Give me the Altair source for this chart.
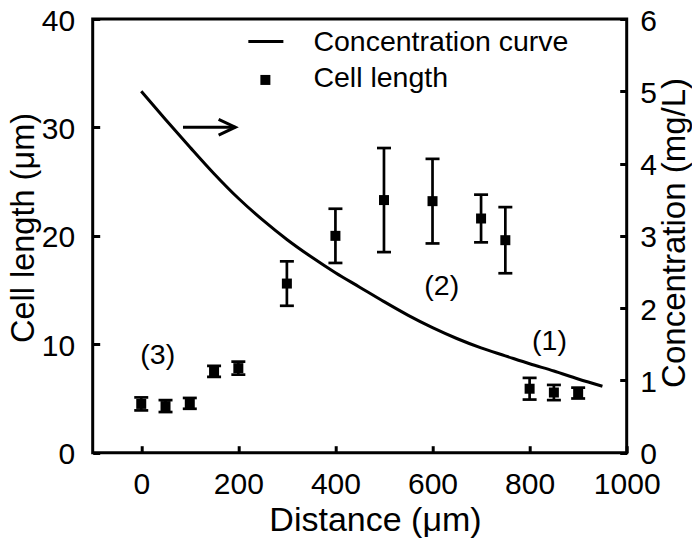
import altair as alt
import pandas as pd

# ---------------- data ----------------
distance = [0, 50, 100, 150, 200, 300, 400, 500, 600, 700, 750, 800, 850, 900]
cell_length = [4.5, 4.3, 4.55, 7.5, 7.8, 15.6, 20.0, 23.3, 23.2, 21.6, 19.6, 5.9, 5.55, 5.5]
cell_err = [0.6, 0.55, 0.5, 0.5, 0.6, 2.05, 2.5, 4.8, 3.9, 2.2, 3.05, 1.0, 0.7, 0.5]

curve_distance = [0, 50, 100, 150, 200, 250, 300, 350, 400, 450, 500,
                  550, 600, 650, 700, 750, 800, 850, 900, 950]
curve_conc = [5.00, 4.61, 4.23, 3.86, 3.52, 3.22, 2.95, 2.71, 2.49, 2.29, 2.09,
              1.90, 1.73, 1.58, 1.45, 1.34, 1.23, 1.13, 1.02, 0.92]

x_ticks = [0, 200, 400, 600, 800, 1000]
left_ticks = [0, 10, 20, 30, 40]
right_ticks = [0, 1, 2, 3, 4, 5, 6]

region_labels = ["(3)", "(2)", "(1)"]
region_x = [34, 619, 841]
region_y = [9.01, 15.38, 10.3]

legend_labels = ["Concentration curve", "Cell length"]

FONT = "Liberation Sans"

# ---------------- tables ----------------
cells = pd.DataFrame({
    "d": distance,
    "len": cell_length,
    "lo": [v - e for v, e in zip(cell_length, cell_err)],
    "hi": [v + e for v, e in zip(cell_length, cell_err)],
})
curve = pd.DataFrame({"d": curve_distance, "c": curve_conc})
regions = pd.DataFrame({"d": region_x, "y": region_y, "t": region_labels})
arrow = pd.DataFrame({"x0": [86.0], "x1": [193.8], "y": [30.02]})
leg_line = pd.DataFrame({"x0": [220.6], "x1": [292.8], "y": [37.92]})
leg_sq = pd.DataFrame({"x": [255.7], "y": [34.38]})
leg_text = pd.DataFrame({"x": [354.6, 354.6], "y": [37.92, 34.54], "t": legend_labels})

xscale = alt.Scale(domain=[-100, 1000], nice=False, zero=False)
ylscale = alt.Scale(domain=[0, 40], nice=False)
yrscale = alt.Scale(domain=[0, 6], nice=False)

common_axis = dict(
    offset=-7, tickSize=7, tickWidth=3, tickColor="black", domain=False, grid=False,
    labelFontSize=30, labelColor="black", labelFont=FONT, labelOverlap=False,
    labelFlush=False, format="d", titleFontWeight="normal", titleColor="black",
    titleFont=FONT,
)

xaxis = alt.Axis(values=x_ticks, title="Distance (μm)", labelPadding=17,
                 titleFontSize=34, titleX=282.3, titleY=85, titleBaseline="alphabetic",
                 titleAlign="center", **common_axis)
ylaxis = alt.Axis(values=left_ticks, title="Cell length (μm)", labelPadding=18,
                  labelOffset=2, titleFontSize=32.5, titleAngle=270, titleX=-76, titleY=208.5,
                  titleBaseline="middle", titleAlign="center", **common_axis)
yraxis = alt.Axis(values=right_ticks, title="Concentration (mg/L)", orient="right",
                  labelPadding=13, labelOffset=2, titleFontSize=33, titleAngle=270,
                  titleX=55, titleY=213.4, titleBaseline="middle", titleAlign="center",
                  **common_axis)


def X(field):
    return alt.X(field, type="quantitative", scale=xscale, axis=xaxis)


def YL(field):
    return alt.Y(field, type="quantitative", scale=ylscale, axis=ylaxis)


base = alt.Chart(cells)

bars = base.mark_rule(strokeWidth=2.7, color="black").encode(
    x=X("d"), y=YL("lo"), y2="hi:Q")
cap_hi = base.mark_tick(orient="horizontal", size=14, thickness=2.7, color="black", opacity=1).encode(
    x=X("d"), y=YL("hi"))
cap_lo = base.mark_tick(orient="horizontal", size=14, thickness=2.7, color="black", opacity=1).encode(
    x=X("d"), y=YL("lo"))
squares = base.mark_square(size=100, color="black", opacity=1).encode(
    x=X("d"), y=YL("len"))

region_text = alt.Chart(regions).mark_text(fontSize=28.5, align="center", baseline="middle",
                                           color="black", font=FONT).encode(
    x=X("d"), y=YL("y"), text="t:N")

arrow_line = alt.Chart(arrow).mark_rule(strokeWidth=3, color="black").encode(
    x=X("x0"), x2="x1:Q", y=YL("y"))
arrow_head = alt.Chart(arrow).mark_point(shape="M-1,-0.47L0,0L-1,0.47", size=1115, filled=False,
                                         strokeWidth=3, color="black", opacity=1,
                                         strokeJoin="miter").encode(
    x=X("x1"), y=YL("y"))

legend_line = alt.Chart(leg_line).mark_rule(strokeWidth=3, color="black").encode(
    x=X("x0"), x2="x1:Q", y=YL("y"))
legend_square = alt.Chart(leg_sq).mark_square(size=100, color="black", opacity=1).encode(
    x=X("x"), y=YL("y"))
legend_text = alt.Chart(leg_text).mark_text(fontSize=28.5, align="left", baseline="middle",
                                            color="black", font=FONT).encode(
    x=X("x"), y=YL("y"), text="t:N")

left = alt.layer(bars, cap_hi, cap_lo, squares, region_text, arrow_line, arrow_head,
                 legend_line, legend_square, legend_text)

right = alt.Chart(curve).mark_line(strokeWidth=3, color="black", interpolate="monotone").encode(
    x=X("d"),
    y=alt.Y("c", type="quantitative", scale=yrscale, axis=yraxis),
)

chart = alt.layer(left, right).resolve_scale(y="independent").properties(
    width=534, height=433.7,
    autosize=alt.AutoSizeParams(type="none"),
    padding={"left": 84.7, "top": 11, "right": 65.3, "bottom": 90.3},
).configure(font=FONT).configure_view(stroke="black", strokeWidth=3)

chart.save("out.html", embed_options={"renderer": "svg", "actions": False})
